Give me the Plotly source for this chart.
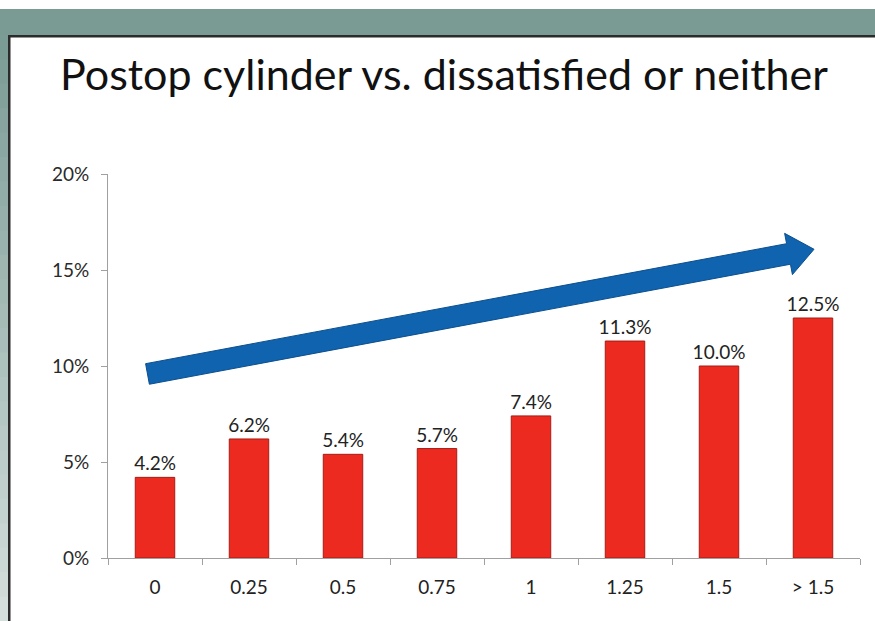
import plotly.graph_objects as go

categories = ["0", "0.25", "0.5", "0.75", "1", "1.25", "1.5", "> 1.5"]
values = [4.2, 6.2, 5.4, 5.7, 7.4, 11.3, 10.0, 12.5]
ytick_vals = [0, 5, 10, 15, 20]
ytick_text = ["0%", "5%", "10%", "15%", "20%"]

W, H = 875, 621
L, R, T, B = 108, 15, 174, 63
pw, ph = W - L - R, H - T - B

def px(x):
    return (x - L) / pw

def py(y):
    return (H - B - y) / ph

FONT = "Lato"

fig = go.Figure()
fig.add_trace(go.Bar(
    x=categories, y=values,
    marker=dict(color="#ec2a1f", line=dict(color="#a51d15", width=1)),
    width=0.42,
    text=[f"{v:.1f}%" for v in values],
    textposition="outside",
    constraintext="none",
    textfont=dict(family=FONT, size=19, color="#222222"),
    cliponaxis=False,
))

shapes = []
# teal band at top
shapes.append(dict(type="rect", xref="paper", yref="paper", x0=px(0), x1=px(W), y0=py(9), y1=py(35),
                   fillcolor="#7a9a94", line=dict(width=0), layer="below"))
# left gradient strip
n = 24
c0 = (0x7a, 0x9a, 0x94)
c1 = (0xd6, 0xe0, 0xdd)
for i in range(n):
    y0 = 35 + (H - 35) * i / n
    y1 = 35 + (H - 35) * (i + 1) / n + 1
    t = (i + 0.5) / n
    col = "rgb(%d,%d,%d)" % tuple(int(a + (b - a) * t) for a, b in zip(c0, c1))
    shapes.append(dict(type="rect", xref="paper", yref="paper", x0=px(0), x1=px(8), y0=py(y0), y1=py(y1),
                       fillcolor=col, line=dict(width=0), layer="below"))
# dark frame lines
shapes.append(dict(type="rect", xref="paper", yref="paper", x0=px(8), x1=px(10.5), y0=py(35), y1=py(H),
                   fillcolor="#2b2b2b", line=dict(width=0), layer="below"))
shapes.append(dict(type="rect", xref="paper", yref="paper", x0=px(8), x1=px(W), y0=py(35), y1=py(37.5),
                   fillcolor="#2b2b2b", line=dict(width=0), layer="below"))

# blue trend arrow (category-index / percent coordinates)
arrow_pts = [(-0.100, 10.12), (6.719, 16.37), (6.698, 16.91), (7.011, 16.08),
             (6.781, 14.76), (6.760, 15.30), (-0.060, 9.05)]
path = "M " + " L ".join(f"{x},{y}" for x, y in arrow_pts) + " Z"
shapes.append(dict(type="path", xref="x", yref="y", path=path,
                   fillcolor="#1063ae", line=dict(color="#0c4f8e", width=1), layer="above"))

fig.update_layout(
    width=W, height=H,
    margin=dict(l=L, r=R, t=T, b=B, pad=0),
    paper_bgcolor="white", plot_bgcolor="white",
    showlegend=False,
    shapes=shapes,
    title=dict(text="Postop cylinder vs. dissatisfied or neither",
               font=dict(family=FONT, size=43, color="#111111"),
               xref="container", yref="container", x=444 / W, xanchor="center",
               y=1 - 75 / H, yanchor="middle"),
    xaxis=dict(type="category", showline=True, linecolor="#a0a0a0", linewidth=1,
               ticks="outside", tickson="boundaries", ticklen=6, tickcolor="#a0a0a0",
               tickfont=dict(family=FONT, size=19, color="#222222"),
               ticklabelstandoff=12,
               showgrid=False, zeroline=False, fixedrange=True),
    yaxis=dict(range=[0, 20], tickvals=ytick_vals, ticktext=ytick_text,
               showline=True, linecolor="#a0a0a0", linewidth=1,
               ticks="outside", ticklen=6, tickcolor="#a0a0a0",
               tickfont=dict(family=FONT, size=19, color="#2a2a2a"),
               ticklabelstandoff=8,
               showgrid=False, zeroline=False, fixedrange=True),
    bargap=0.58,
)

fig.write_html("out.html")
